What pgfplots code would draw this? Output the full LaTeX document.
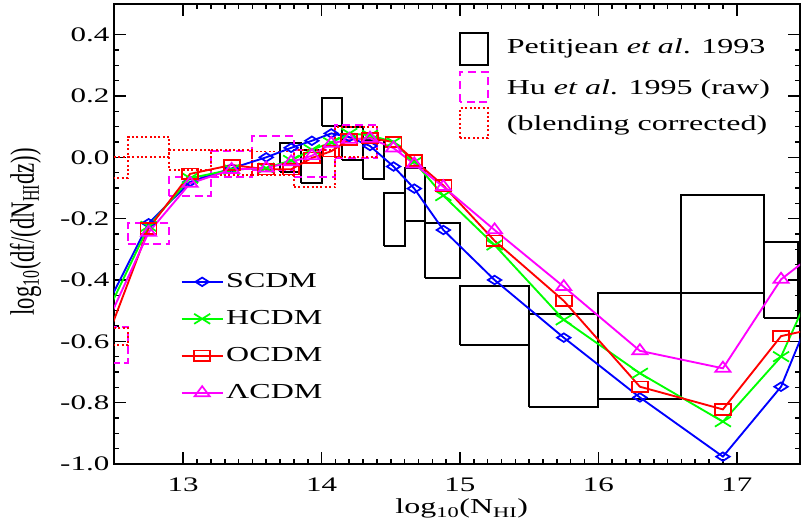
\documentclass[border=0pt]{standalone}
\usepackage{fontspec}
\setmainfont{Liberation Serif}[FakeStretch=1.5]
\newfontfamily\ylabfont{Liberation Serif}
\usepackage{pgfplots}
\usepackage{pgfplotstable}
\pgfplotsset{compat=1.18}
\definecolor{mag}{RGB}{255,0,255}
\definecolor{grn}{RGB}{0,255,0}
\definecolor{blu}{RGB}{0,0,255}
\definecolor{rd}{RGB}{255,0,0}

% model curves: x, SCDM, HCDM, OCDM, LCDM
\pgfplotstableread{
x      s       h       o       l
12.45 -0.483  -0.507  -0.590  -0.540
12.75 -0.215  -0.225  -0.232  -0.245
13.05 -0.080  -0.068  -0.054  -0.085
13.35 -0.036  -0.040  -0.025  -0.040
13.60  0.000  -0.035  -0.039  -0.035
13.78  0.031  -0.010  -0.039  -0.015
13.93  0.054   0.025  -0.002   0.005
14.07  0.078   0.048   0.020   0.045
14.20  0.066   0.078   0.058   0.058
14.35  0.037   0.072   0.063   0.062
14.52 -0.030   0.050   0.050   0.030
14.67 -0.102  -0.015  -0.010  -0.022
14.88 -0.237  -0.125  -0.092  -0.096
15.25 -0.400  -0.286  -0.272  -0.237
15.75 -0.588  -0.530  -0.468  -0.422
16.30 -0.783  -0.704  -0.748  -0.631
16.90 -0.976  -0.862  -0.822  -0.688
17.32 -0.748  -0.650  -0.583  -0.398
17.60 -0.440  -0.370  -0.555  -0.300
}\models

% one box: style, x1, x2, lower, upper
\newcommand{\bx}[5]{\addplot[#1] coordinates {(#2,#4) (#3,#4) (#3,#5) (#2,#5) (#2,#4)};}

\begin{document}
\begin{tikzpicture}
\begin{axis}[
  scale only axis, width=514.5pt, height=345pt,
  xmin=12.5, xmax=17.457, ymin=-1, ymax=0.5,
  xtick={13,14,15,16,17}, minor x tick num=9,
  ytick={-1,-0.8,-0.6,-0.4,-0.2,0,0.2,0.4}, minor y tick num=3,
  tick align=inside, tick pos=both,
  major tick length=9pt, minor tick length=4pt,
  axis line style={line width=1.5pt},
  tick style={line width=1.2pt, black},
  tick label style={font=\fontsize{15.5}{18}\selectfont},
  /pgf/number format/assume math mode=true,
  yticklabel style={/pgf/number format/.cd, fixed, fixed zerofill, precision=1},
  xticklabel style={anchor=base, yshift=-20.8pt},
  xlabel={log\textsubscript{10}(N\textsubscript{HI})},
  xlabel style={font=\fontsize{16}{19}\selectfont, at={(axis description cs:0.507,-0.108)}, anchor=base},
  ylabel={log\textsubscript{10}(df/(dN\textsubscript{HI}dz))},
  ylabel style={font=\ylabfont\fontsize{17}{20}\selectfont, at={(axis description cs:-0.129,0.505)}, anchor=center, yscale=1.5},
  pet/.style={black, line width=1.5pt, forget plot, mark=none},
  hu/.style={mag, line width=1.5pt, dash pattern=on 6pt off 3.5pt, forget plot, mark=none},
  bl/.style={rd, line width=1.4pt, dash pattern=on 1.5pt off 1.8pt, forget plot, mark=none},
  legend image code/.code={\draw[#1, mark indices={2}] plot coordinates {(0pt,0pt) (15.4pt,0pt) (30.75pt,0pt)};},
  legend style={at={(axis cs:12.98,-0.366)}, anchor=north west, draw=none, fill=none,
    font=\fontsize{16}{18}\selectfont, inner sep=0pt, row sep=9.75pt,
    nodes={text height=11pt, text depth=3pt, inner sep=2pt},
    /tikz/every even column/.append style={column sep=4pt}},
  legend cell align=left,
]
% Petitjean et al. 1993
\bx{pet}{13.70}{13.85}{-0.047}{0.046}
\bx{pet}{13.85}{14.00}{-0.083}{0.025}
\bx{pet}{14.00}{14.15}{0.103}{0.192}
\bx{pet}{14.15}{14.30}{-0.009}{0.100}
\bx{pet}{14.30}{14.45}{-0.071}{0.056}
\bx{pet}{14.45}{14.60}{-0.288}{-0.115}
\bx{pet}{14.60}{14.75}{-0.207}{-0.036}
\bx{pet}{14.75}{15.00}{-0.392}{-0.213}
\bx{pet}{15.00}{15.50}{-0.612}{-0.420}
\bx{pet}{15.50}{16.00}{-0.813}{-0.512}
\bx{pet}{16.00}{16.60}{-0.789}{-0.443}
\bx{pet}{16.60}{17.20}{-0.443}{-0.123}
\bx{pet}{17.20}{17.44}{-0.523}{-0.275}
% Hu et al. 1995 raw
\bx{hu}{12.30}{12.60}{-0.670}{-0.552}
\bx{hu}{12.60}{12.90}{-0.283}{-0.215}
\bx{hu}{12.90}{13.20}{-0.125}{-0.063}
\bx{hu}{13.20}{13.50}{-0.065}{0.020}
\bx{hu}{13.50}{13.80}{-0.040}{0.068}
\bx{hu}{13.80}{14.10}{-0.063}{0.023}
\bx{hu}{14.10}{14.40}{-0.003}{0.105}
% blending corrected
\bx{bl}{12.30}{12.60}{-0.612}{-0.557}
\bx{bl}{12.30}{12.60}{-0.067}{0.002}
\bx{bl}{12.60}{12.90}{0.002}{0.067}
\bx{bl}{12.90}{13.20}{-0.040}{0.024}
\bx{bl}{13.20}{13.50}{-0.058}{0.024}
\bx{bl}{13.50}{13.80}{-0.057}{0.019}
\bx{bl}{13.80}{14.10}{-0.098}{0.024}
\bx{bl}{14.10}{14.40}{0.002}{0.100}
% models
\addplot[blu, line width=1.4pt, mark=diamond, mark size=3.2pt, mark indices={1,...,17},
  mark options={xscale=2.1, solid, line width=1.3pt}] table[x=x, y=s] {\models};
\addlegendentry{SCDM}
\addplot[grn, line width=1.4pt, mark=x, mark size=5.3pt, mark indices={1,...,17},
  mark options={xscale=1.6, line width=1.3pt}] table[x=x, y=h] {\models};
\addlegendentry{HCDM}
\addplot[rd, line width=1.4pt, mark=square, mark size=4pt, mark indices={1,...,17},
  mark options={xscale=1.5, line width=1.3pt}] table[x=x, y=o] {\models};
\addlegendentry{OCDM}
\addplot[mag, line width=1.4pt, mark=triangle, mark size=5pt, mark indices={1,...,17},
  mark options={xscale=1.3, line width=1.3pt}] table[x=x, y=l] {\models};
\addlegendentry{ΛCDM}
% legend for the data boxes
\draw[black, line width=1.5pt] (axis cs:15.0,0.301) rectangle (axis cs:15.202,0.405);
\draw[mag, line width=1.5pt, dash pattern=on 6pt off 3.5pt] (axis cs:15.0,0.181) rectangle (axis cs:15.202,0.279);
\draw[rd, line width=1.4pt, dash pattern=on 1.5pt off 1.8pt] (axis cs:15.0,0.063) rectangle (axis cs:15.202,0.161);
\begin{scope}[every node/.style={anchor=base west, inner sep=0pt, font=\fontsize{16}{18}\selectfont}]
\node at (axis cs:15.337,0.339) {Petitjean \textit{et al}. 1993};
\node at (axis cs:15.337,0.206) {Hu \textit{et al}. 1995 (raw)};
\node at (axis cs:15.337,0.089) {(blending corrected)};
\end{scope}
\coordinate (sw) at (rel axis cs:0,0);
\coordinate (ne) at (rel axis cs:1,1);
\end{axis}
\pgfresetboundingbox
\path[use as bounding box] ([shift={(-85.5pt,-44.25pt)}]sw) rectangle ([shift={(0.75pt,3pt)}]ne);
\end{tikzpicture}
\end{document}
